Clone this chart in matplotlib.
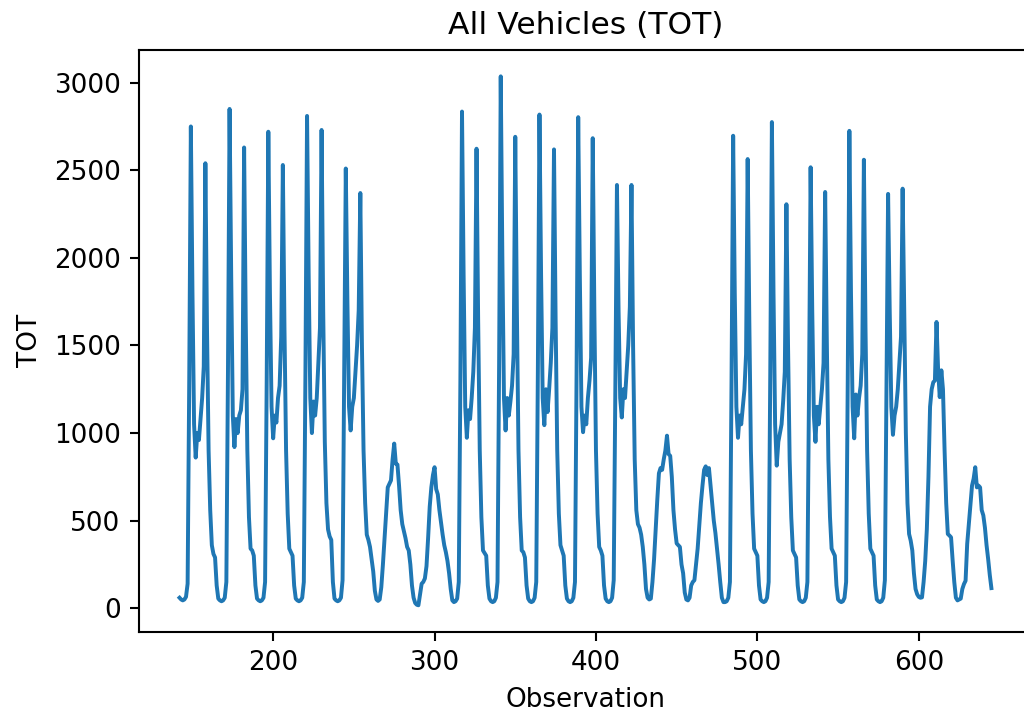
import numpy as np
import matplotlib
matplotlib.use('Agg')
import matplotlib.pyplot as plt

# Hourly vehicle counts, one list of 24 values per day, starting at observation 142
first_obs = 142

day01 = [60, 50, 45, 50, 65, 140, 1300, 2750, 1800, 1050, 860, 1000, 960, 1080, 1200, 1380, 2540, 1600, 900, 560, 360, 310, 290, 130]
day02 = [55, 45, 40, 45, 60, 150, 1350, 2850, 1900, 1100, 920, 1080, 1000, 1100, 1130, 1250, 2630, 1650, 900, 520, 340, 330, 300, 130]
day03 = [55, 45, 40, 45, 60, 150, 1300, 2720, 1800, 1150, 970, 1100, 1060, 1200, 1270, 1550, 2530, 1600, 900, 540, 340, 320, 300, 130]
day04 = [55, 45, 40, 45, 60, 150, 1350, 2810, 1900, 1200, 1000, 1180, 1100, 1200, 1400, 1600, 2730, 1700, 950, 600, 450, 410, 390, 150]
day05 = [55, 45, 40, 45, 60, 160, 1300, 2510, 1750, 1150, 1015, 1150, 1200, 1350, 1500, 1700, 2370, 1500, 900, 600, 420, 390, 350, 280]
day06 = [210, 100, 50, 42, 50, 120, 250, 400, 560, 690, 710, 730, 850, 940, 825, 820, 700, 560, 480, 440, 400, 350, 330, 250]
day07 = [130, 60, 30, 20, 17, 80, 140, 150, 170, 240, 400, 580, 690, 760, 805, 680, 650, 560, 490, 420, 360, 320, 270, 200]
day08 = [110, 45, 35, 40, 55, 150, 1300, 2835, 1900, 1150, 973, 1130, 1080, 1200, 1350, 1600, 2623, 1650, 900, 520, 330, 315, 300, 130]
day09 = [55, 40, 35, 40, 60, 150, 1400, 3036, 2000, 1200, 1015, 1200, 1100, 1180, 1270, 1450, 2691, 1700, 900, 520, 330, 320, 290, 130]
day10 = [55, 40, 35, 40, 60, 150, 1350, 2818, 1900, 1200, 1045, 1250, 1120, 1250, 1400, 1600, 2619, 1650, 900, 540, 360, 330, 300, 130]
day11 = [55, 40, 35, 40, 60, 150, 1350, 2803, 1900, 1150, 1005, 1100, 1050, 1200, 1300, 1430, 2683, 1700, 900, 540, 350, 330, 300, 130]
day12 = [55, 40, 35, 40, 60, 160, 1250, 2416, 1700, 1200, 1089, 1250, 1200, 1350, 1500, 1720, 2416, 1500, 850, 560, 480, 460, 420, 350]
day13 = [250, 110, 60, 50, 55, 150, 280, 450, 620, 770, 800, 790, 850, 900, 985, 880, 870, 750, 560, 450, 370, 360, 350, 250]
day14 = [200, 90, 50, 45, 60, 130, 150, 160, 250, 340, 470, 600, 700, 790, 810, 760, 800, 700, 600, 500, 430, 340, 250, 150]
day15 = [60, 35, 35, 40, 60, 150, 1300, 2697, 1800, 1150, 973, 1100, 1050, 1150, 1250, 1450, 2564, 1650, 900, 540, 340, 320, 300, 130]
day16 = [50, 40, 35, 40, 60, 150, 1350, 2775, 1800, 1050, 814, 950, 1000, 1050, 1184, 1350, 2306, 1500, 850, 520, 330, 310, 290, 130]
day17 = [50, 40, 35, 40, 60, 150, 1250, 2517, 1700, 1100, 950, 1150, 1050, 1150, 1250, 1400, 2376, 1550, 850, 520, 340, 320, 300, 130]
day18 = [50, 40, 35, 40, 60, 150, 1300, 2725, 1800, 1150, 970, 1220, 1100, 1200, 1270, 1450, 2560, 1600, 900, 540, 340, 320, 300, 130]
day19 = [50, 40, 35, 40, 60, 160, 1250, 2365, 1700, 1150, 990, 1100, 1150, 1250, 1400, 1550, 2395, 1700, 1000, 600, 424, 386, 330, 200]
day20 = [110, 80, 65, 60, 62, 150, 270, 450, 750, 1150, 1250, 1290, 1300, 1634, 1358, 1205, 1358, 1250, 900, 600, 424, 415, 405, 272]
day21 = [150, 60, 45, 50, 55, 110, 138, 157, 367, 480, 600, 700, 740, 805, 690, 700, 690, 560, 530, 460, 360, 280, 190, 115]

days = [day01, day02, day03, day04, day05, day06, day07, day08, day09, day10, day11,
        day12, day13, day14, day15, day16, day17, day18, day19, day20, day21]
tot = np.concatenate(days)
obs = np.arange(first_obs, first_obs + len(tot))

s = 1.886  # size factor applied to the default styling

fig = plt.figure(figsize=(10.24, 7.13), dpi=100)
ax = fig.add_axes([0.1357, 0.114, 0.8721, 0.816])

ax.plot(obs, tot, color='#1f77b4', linewidth=1.5 * s)

ax.set_title('All Vehicles (TOT)', fontsize=12 * s, pad=6 * s)
ax.set_xlabel('Observation', fontsize=10 * s, labelpad=4 * s)
ax.set_ylabel('TOT', fontsize=10 * s, labelpad=4 * s)
ax.set_yticks([0, 500, 1000, 1500, 2000, 2500, 3000])
ax.tick_params(labelsize=10 * s, width=0.8 * s, length=3.5 * s, pad=3.5 * s)
for sp in ax.spines.values():
    sp.set_linewidth(0.8 * s)

fig.savefig('out.png', dpi=100)
